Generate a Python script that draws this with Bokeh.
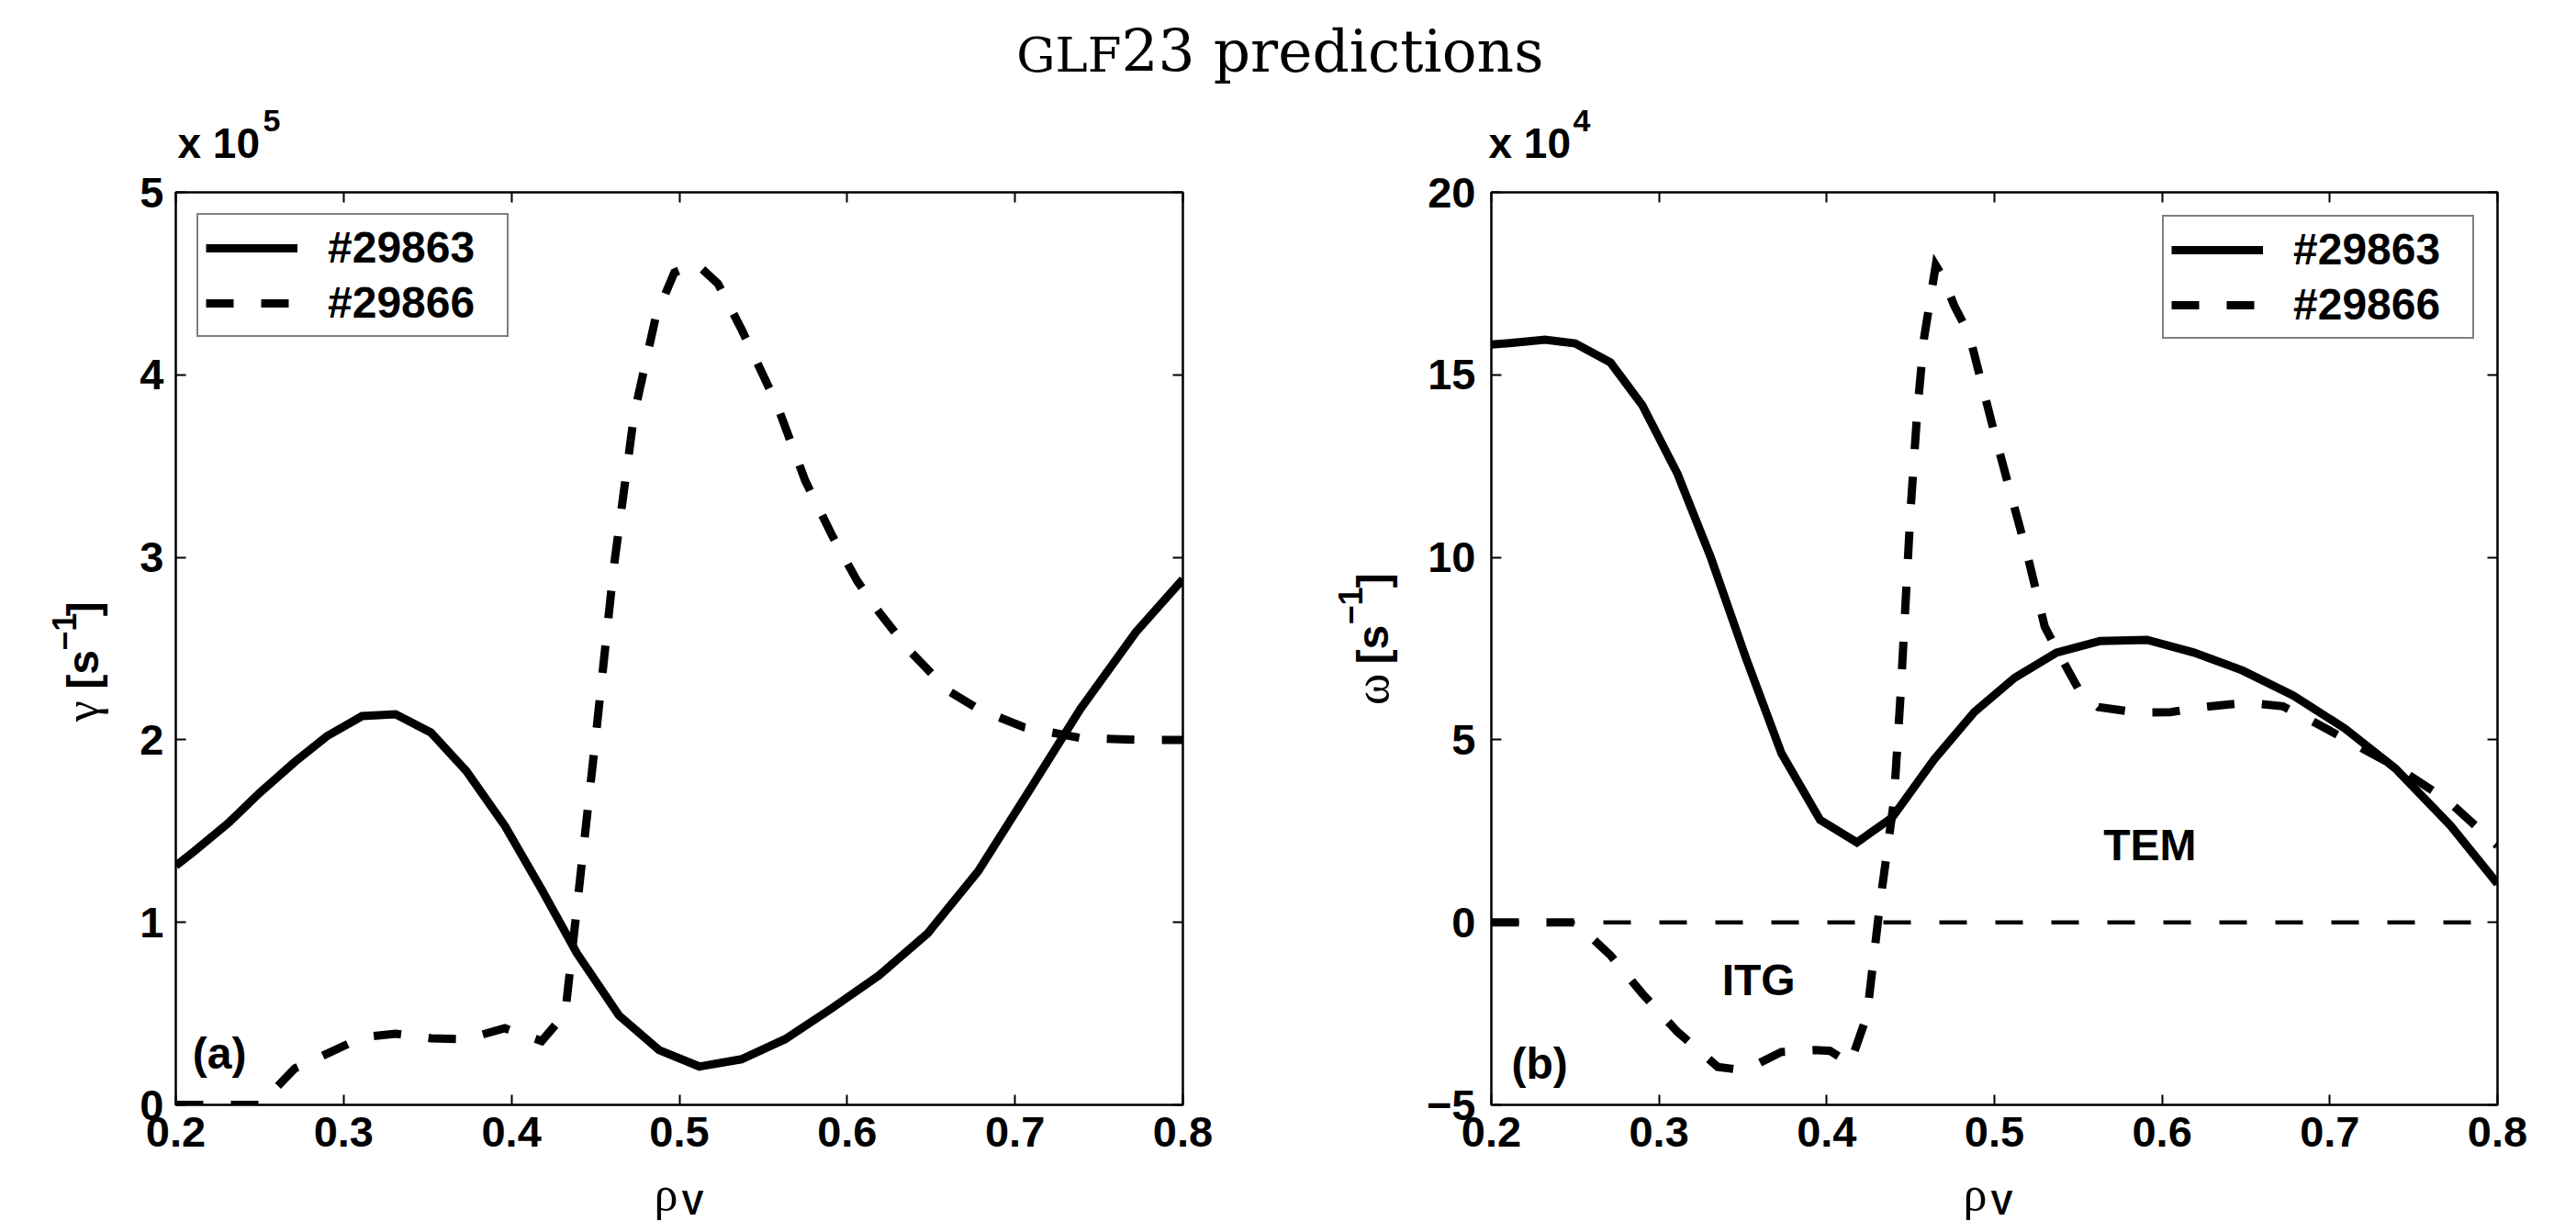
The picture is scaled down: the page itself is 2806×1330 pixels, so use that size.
import math
from bokeh.plotting import figure
from bokeh.models import (Range1d, FixedTicker, LinearAxis, Label, Legend, LegendItem,
                          Span, BasicTickFormatter, CustomJSTickFormatter)
from bokeh.layouts import column, row
from bokeh.embed import file_html
from bokeh.resources import INLINE

# ---------------- data ----------------
title_prefix = "GLF"
title_rest = "23 predictions"
series_names = ["#29863", "#29866"]
xticks = [0.2, 0.3, 0.4, 0.5, 0.6, 0.7, 0.8]
gamma_ticks = [0, 1, 2, 3, 4, 5]          # x 10^5 s^-1
omega_ticks = [-5, 0, 5, 10, 15, 20]      # x 10^4 s^-1

rho_29863 = [0.200, 0.211, 0.232, 0.250, 0.271, 0.290, 0.311, 0.331, 0.352, 0.373,
             0.396, 0.418, 0.439, 0.464, 0.488, 0.512, 0.537, 0.563, 0.591, 0.619,
             0.648, 0.678, 0.709, 0.739, 0.772, 0.800]
gamma_29863 = [1.31, 1.39, 1.55, 1.71, 1.88, 2.02, 2.13, 2.14, 2.04, 1.83,
               1.53, 1.18, 0.83, 0.49, 0.30, 0.21, 0.25, 0.36, 0.53, 0.71,
               0.94, 1.28, 1.73, 2.17, 2.59, 2.88]
omega_29863 = [15.83, 15.87, 15.96, 15.86, 15.34, 14.17, 12.29, 9.98, 7.22, 4.63,
               2.81, 2.19, 2.87, 4.46, 5.76, 6.70, 7.39, 7.71, 7.74, 7.39,
               6.90, 6.22, 5.31, 4.22, 2.65, 1.06]

rho_gamma_29866 = [0.200, 0.250, 0.271, 0.290, 0.311, 0.331, 0.352, 0.373, 0.396, 0.418,
                   0.432, 0.450, 0.461, 0.473, 0.486, 0.497, 0.510, 0.523, 0.537, 0.558,
                   0.575, 0.591, 0.606, 0.619, 0.636, 0.660, 0.678, 0.705, 0.739, 0.772,
                   0.800]
gamma_29866 = [0.0, 0.0, 0.20, 0.28, 0.37, 0.39, 0.365, 0.36, 0.42, 0.35,
               0.50, 2.00, 2.95, 3.78, 4.32, 4.56, 4.61, 4.50, 4.25, 3.84,
               3.42, 3.12, 2.87, 2.70, 2.50, 2.27, 2.17, 2.07, 2.01, 2.00,
               2.00]

rho_omega_29866 = [0.200, 0.250, 0.271, 0.290, 0.311, 0.335, 0.345, 0.360, 0.373, 0.393,
                   0.402, 0.414, 0.424, 0.432, 0.440, 0.444, 0.450, 0.454, 0.458, 0.465,
                   0.469, 0.476, 0.485, 0.500, 0.510, 0.520, 0.530, 0.538, 0.550, 0.562,
                   0.585, 0.605, 0.625, 0.650, 0.672, 0.690, 0.710, 0.740, 0.770, 0.800]
omega_29866 = [0.0, 0.0, -0.90, -1.95, -3.00, -3.96, -4.02, -3.85, -3.55, -3.50,
               -3.52, -3.87, -2.55, 0.60, 3.30, 6.20, 11.30, 14.00, 16.00, 18.00,
               17.70, 16.90, 16.10, 13.40, 11.70, 10.00, 8.10, 7.40, 6.40, 5.90,
               5.75, 5.76, 5.90, 6.02, 5.92, 5.50, 5.00, 4.25, 3.35, 2.10]

# ---------------- styling / geometry ----------------
FONT = "Liberation Sans"
SERIF = "Liberation Serif"
TOP_H = 182          # title strip
BORDER_TOP = 27      # panel border above the frame (frame top at page y 209)
PANEL_H = 1089       # panels (frame 209..1203 on the page)
BOT_Y = TOP_H + PANEL_H
PAGE_H = 1330
LW = 9
DASH = "30 30"
UP = math.pi / 2


def strip(x0, x1, y0, y1):
    """An empty figure covering page area [x0,x1]x[y0,y1]; data units = page pixels."""
    f = figure(width=x1 - x0, height=y1 - y0, x_range=Range1d(x0, x1),
               y_range=Range1d(-y1, -y0), x_axis_location=None, y_axis_location=None,
               toolbar_location=None, output_backend="svg", min_border=0)
    f.grid.visible = False
    f.outline_line_color = None
    f.background_fill_color = "white"
    f.border_fill_color = "white"
    return f


def txt(f, px, py, text, size, bold=True, font=FONT, align="left", angle=0.0):
    f.add_layout(Label(x=px, y=-py, text=text, text_font=font,
                       text_font_size=f"{size}px",
                       text_font_style="bold" if bold else "normal",
                       text_align=align, text_baseline="middle", angle=angle,
                       text_color="black"))


def make_panel(w, bl, br, yr, yticks, standoff):
    p = figure(width=w, height=PANEL_H,
               min_border_left=bl, min_border_right=br,
               min_border_top=BORDER_TOP, min_border_bottom=68,
               x_range=Range1d(0.2, 0.8), y_range=Range1d(*yr),
               toolbar_location=None, output_backend="svg")
    p.grid.visible = False
    p.outline_line_color = "black"
    p.outline_line_width = 2.5
    p.background_fill_color = "white"
    p.border_fill_color = "white"
    p.xaxis.ticker = FixedTicker(ticks=xticks, minor_ticks=[])
    p.xaxis.formatter = BasicTickFormatter(precision=1)
    p.yaxis.ticker = FixedTicker(ticks=yticks, minor_ticks=[])
    for ax in (p.xaxis[0], p.yaxis[0]):
        ax.axis_line_color = None
        ax.major_tick_in = 11
        ax.major_tick_out = 0
        ax.major_tick_line_width = 2
        ax.major_tick_line_color = "black"
        ax.minor_tick_line_color = None
        ax.major_label_text_font = FONT
        ax.major_label_text_font_size = "47px"
        ax.major_label_text_font_style = "bold"
        ax.major_label_text_color = "black"
    p.xaxis[0].major_label_standoff = 13
    p.yaxis[0].major_label_standoff = standoff
    for loc, tks in (("right", yticks), ("above", xticks)):
        ax = LinearAxis(ticker=FixedTicker(ticks=tks, minor_ticks=[]),
                        formatter=CustomJSTickFormatter(code="return ''"),
                        axis_line_color=None, major_tick_in=11, major_tick_out=0,
                        major_tick_line_width=2, major_tick_line_color="black",
                        minor_tick_line_color=None, major_label_standoff=0,
                        major_label_text_font_size="1px")
        p.add_layout(ax, loc)
    return p


def add_legend(p, r1, r2, location, margin):
    leg = Legend(items=[LegendItem(label=series_names[0], renderers=[r1]),
                        LegendItem(label=series_names[1], renderers=[r2])],
                 location=location, margin=margin, padding=8, spacing=5,
                 glyph_width=100, glyph_height=50, label_height=50, label_width=187,
                 label_standoff=33, label_text_font=FONT, label_text_font_size="48px",
                 label_text_font_style="bold", label_text_color="black",
                 border_line_color="black", border_line_width=2,
                 background_fill_color="white", background_fill_alpha=1.0)
    p.add_layout(leg)


def in_label(p, x, y, text):
    p.add_layout(Label(x=x, y=y, text=text, text_font=FONT, text_font_size="48px",
                       text_font_style="bold", text_baseline="middle", text_color="black"))


# ---------------- top strip: title and axis multipliers ----------------
top = strip(0, 2806, 0, TOP_H)
txt(top, 1221, 59, title_prefix, 53, bold=False, font="DejaVu Serif", align="right")
txt(top, 1221, 56, title_rest, 63, bold=False, font="DejaVu Serif", align="left")
txt(top, 193, 155, "x 10", 46)
txt(top, 286, 131, "5", 34)
txt(top, 1621, 155, "x 10", 46)
txt(top, 1713, 131, "4", 34)

# ---------------- y-label strips ----------------
ya = strip(0, 148, TOP_H, BOT_Y)
txt(ya, 89, 814, "γ", 52, bold=False, font=SERIF, angle=UP)
txt(ya, 90, 775, "[s", 48, angle=UP)
txt(ya, 69, 729, "−1", 36, angle=UP)
txt(ya, 90, 688, "]", 48, angle=UP)

yb = strip(1400, 1550, TOP_H, BOT_Y)
txt(yb, 1494, 794, "ω", 52, bold=False, font=SERIF, angle=UP)
txt(yb, 1495, 745, "[s", 48, angle=UP)
txt(yb, 1470, 698, "−1", 36, angle=UP)
txt(yb, 1495, 654, "]", 48, angle=UP)

# ---------------- bottom strip: x labels ----------------
bot = strip(0, 2806, BOT_Y, PAGE_H)
txt(bot, 712, 1300, "ρ", 52, bold=False, font=SERIF)
txt(bot, 742, 1310, "V", 36)
txt(bot, 2138, 1300, "ρ", 52, bold=False, font=SERIF)
txt(bot, 2168, 1310, "V", 36)

# ---------------- panel (a) ----------------
pa = make_panel(1252, 43, 112, (0, 5), gamma_ticks, 13)
ra1 = pa.line(rho_29863, gamma_29863, line_color="black", line_width=LW, line_join="miter")
ra2 = pa.line(rho_gamma_29866, gamma_29866, line_color="black", line_width=LW,
              line_dash=DASH, line_join="miter")
add_legend(pa, ra1, ra2, "top_left", 23)
in_label(pa, 0.21, 0.28, "(a)")

# ---------------- panel (b) ----------------
pb = make_panel(1256, 70, 86, (-5, 20), omega_ticks, 17)
pb.add_layout(Span(location=0, dimension="width", line_color="black", line_width=4.5,
                   line_dash="30 31", level="underlay"))
rb1 = pb.line(rho_29863, omega_29863, line_color="black", line_width=LW, line_join="miter")
rb2 = pb.line(rho_omega_29866, omega_29866, line_color="black", line_width=LW,
              line_dash=DASH, line_join="miter")
add_legend(pb, rb1, rb2, "top_right", 25)
in_label(pb, 0.212, -3.87, "(b)")
in_label(pb, 0.3375, -1.58, "ITG")
in_label(pb, 0.565, 2.12, "TEM")

layout = column(top, row(ya, pa, yb, pb, spacing=0), bot, spacing=0)
open("out.html", "w").write(file_html(layout, INLINE))
